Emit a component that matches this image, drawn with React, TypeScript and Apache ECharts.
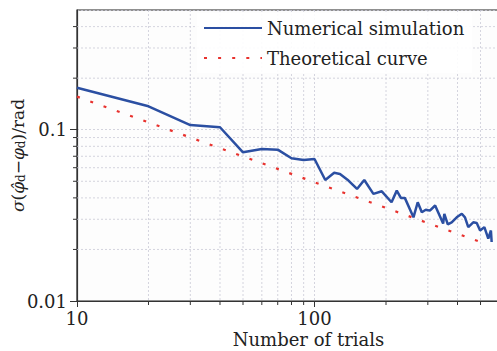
import React, { useEffect, useRef } from 'react';
import * as echarts from 'echarts';

// Numerical simulation (trials, sigma in rad)
const simTrials = [10, 20, 30, 40, 50, 60, 70, 80, 90, 100, 111, 121, 128, 139, 151, 162, 177, 192, 211, 222, 231, 240, 261, 272, 283, 294, 306, 322, 348, 352, 364, 378, 397, 417, 430, 444, 466, 482, 498, 519, 539, 553, 557];
const simSigma = [0.176, 0.137, 0.1065, 0.1034, 0.0738, 0.0772, 0.0765, 0.0681, 0.0666, 0.0675, 0.0509, 0.056, 0.0552, 0.0505, 0.0451, 0.0509, 0.0422, 0.0437, 0.0377, 0.0441, 0.04, 0.04, 0.0308, 0.0377, 0.033, 0.0341, 0.0337, 0.0361, 0.0283, 0.0323, 0.028, 0.0288, 0.0308, 0.0323, 0.0308, 0.027, 0.0288, 0.0285, 0.0258, 0.027, 0.0231, 0.0258, 0.0221];

// Theoretical curve (straight line in log-log)
const theoryTrials = [10, 500];
const theorySigma = [0.156, 0.0221];

// Axis extents and minor grid positions
const xMin = 10;
const xMax = 890;
const yMin = 0.01;
const yMax = 0.5;
const xMinor = [20, 30, 40, 50, 60, 70, 80, 90, 200, 300, 400, 500, 600, 700, 800];
const yMinor = [0.02, 0.03, 0.04, 0.05, 0.06, 0.07, 0.08, 0.09, 0.2, 0.3, 0.4];

const FONT = 'DejaVu Serif';
const GRID_COLOR = '#c9c9d6';
const AXIS_COLOR = '#333';

export default function App() {
  const ref = useRef<HTMLDivElement>(null);
  useEffect(() => {
    if (!ref.current) return;
    const chart = echarts.init(ref.current, undefined, { renderer: 'svg' });
    const gridLine = { color: GRID_COLOR, width: 0.8, type: [2, 2] as any };
    const option: any = {
      animation: false,
      backgroundColor: '#fff',
      grid: {
        left: 77, right: -43, top: 10, bottom: 50,
        outerBoundsMode: 'none', containLabel: false,
        show: true, borderColor: '#222', borderWidth: 1.2, backgroundColor: '#fdfdfd',
      },
      legend: {
        orient: 'vertical', left: 197, top: 13,
        padding: [6, 8, 6, 6],
        backgroundColor: 'rgba(255,255,255,0.9)',
        itemWidth: 58, itemHeight: 14, itemGap: 12,
        itemStyle: { opacity: 0 },
        textStyle: { fontFamily: FONT, fontSize: 18, color: '#222', lineHeight: 17 },
        data: ['Numerical simulation', 'Theoretical curve'],
      },
      xAxis: {
        type: 'log', logBase: 10, min: xMin, max: xMax,
        name: 'Number of trials', nameLocation: 'middle', nameGap: 29,
        nameMoveOverlap: false,
        nameTextStyle: { fontFamily: FONT, fontSize: 18, color: '#222' },
        axisLine: { show: true, lineStyle: { color: AXIS_COLOR, width: 1.2 } },
        axisTick: { show: true, length: 6, lineStyle: { color: AXIS_COLOR } },
        axisLabel: { fontFamily: FONT, fontSize: 18, color: '#222', margin: 8, showMaxLabel: false },
        splitLine: { show: true, lineStyle: gridLine },
      },
      yAxis: {
        type: 'log', logBase: 10, min: yMin, max: yMax,
        name: '{i|σ}{n|(}{i|φ̂}{s|d}{n|−}{i|φ}{s|d}{n|)/rad}',
        nameLocation: 'middle', nameGap: 50, nameRotate: 90,
        nameMoveOverlap: false,
        nameTextStyle: {
          fontFamily: FONT, fontSize: 17, color: '#222',
          rich: {
            i: { fontFamily: FONT, fontSize: 17, fontStyle: 'italic', color: '#222' },
            n: { fontFamily: FONT, fontSize: 17, color: '#222' },
            s: { fontFamily: FONT, fontSize: 12, color: '#222', padding: [7, 0, 0, 0] },
          },
        },
        axisLine: { show: true, lineStyle: { color: AXIS_COLOR, width: 1.2 } },
        axisTick: { show: true, length: 7, lineStyle: { color: AXIS_COLOR } },
        axisLabel: { fontFamily: FONT, fontSize: 18, color: '#222', margin: 10, showMaxLabel: false },
        splitLine: { show: true, lineStyle: gridLine },
      },
      series: [
        {
          type: 'custom', name: 'xminor', silent: true, clip: false, z: 1,
          data: xMinor.map((v) => [v, yMin]),
          renderItem: (_p: any, api: any) => {
            const x = api.value(0);
            const top = api.coord([x, yMax]);
            const bot = api.coord([x, yMin]);
            return {
              type: 'group',
              children: [
                { type: 'line', shape: { x1: top[0], y1: top[1], x2: bot[0], y2: bot[1] }, style: { stroke: GRID_COLOR, lineWidth: 0.8, lineDash: [2, 2] } },
                { type: 'line', shape: { x1: bot[0], y1: bot[1], x2: bot[0], y2: bot[1] + 4 }, style: { stroke: AXIS_COLOR, lineWidth: 1 } },
              ],
            };
          },
        },
        {
          type: 'custom', name: 'yminor', silent: true, clip: false, z: 1,
          data: yMinor.map((v) => [xMin, v]),
          renderItem: (_p: any, api: any) => {
            const y = api.value(1);
            const l = api.coord([xMin, y]);
            const r = api.coord([xMax, y]);
            return {
              type: 'group',
              children: [
                { type: 'line', shape: { x1: l[0], y1: l[1], x2: r[0], y2: r[1] }, style: { stroke: GRID_COLOR, lineWidth: 0.8, lineDash: [2, 2] } },
                { type: 'line', shape: { x1: l[0] - 4, y1: l[1], x2: l[0], y2: l[1] }, style: { stroke: AXIS_COLOR, lineWidth: 1 } },
              ],
            };
          },
        },
        {
          type: 'line', name: 'Numerical simulation', symbol: 'none', z: 3,
          data: simTrials.map((t, i) => [t, simSigma[i]]),
          lineStyle: { color: '#2b4fa2', width: 2.5 },
          itemStyle: { color: '#2b4fa2' },
        },
        {
          type: 'line', name: 'Theoretical curve', symbol: 'none', z: 3,
          data: theoryTrials.map((t, i) => [t, theorySigma[i]]),
          lineStyle: { color: '#e8322e', width: 2.2, type: [3, 11.1], cap: 'butt' },
          itemStyle: { color: '#e8322e' },
        },
      ],
    };
    chart.setOption(option);
    return () => chart.dispose();
  }, []);
  return <div ref={ref} style={{ width: 497, height: 351, position: 'absolute', left: 0, top: 0 }} />;
}
